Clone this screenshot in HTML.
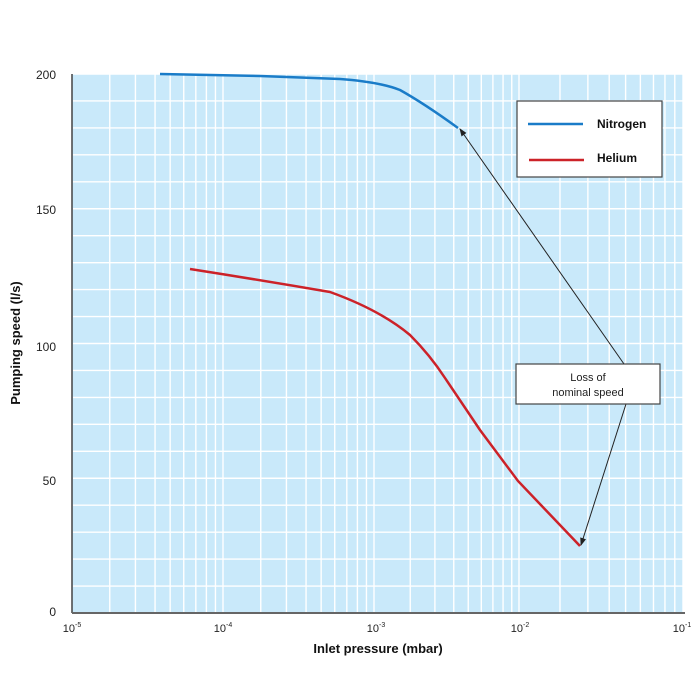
<!DOCTYPE html>
<html><head><meta charset="utf-8"><style>
html,body{margin:0;padding:0;background:#fff;}
svg{display:block;font-family:"Liberation Sans",sans-serif;}
</style></head><body>
<svg id="s" width="700" height="700" viewBox="0 0 700 700" xmlns="http://www.w3.org/2000/svg">
<defs>
<marker id="ah" markerWidth="8" markerHeight="8" refX="7" refY="4" orient="auto" markerUnits="userSpaceOnUse">
<path d="M0,1 L8,4 L0,7 Z" fill="#222"/></marker>
</defs>
<rect x="72" y="74" width="611" height="539" fill="#c9e9fa"/>
<g id="grid" stroke="#fff" stroke-width="1.4"></g>
<line x1="72" y1="74" x2="72" y2="613" stroke="#444" stroke-width="1.5"/>
<line x1="72" y1="613" x2="685" y2="613" stroke="#666" stroke-width="2"/>
<g font-size="12" fill="#222" text-anchor="end">
<text x="56" y="79">200</text><text x="56" y="214">150</text><text x="56" y="351">100</text>
<text x="56" y="485">50</text><text x="56" y="616">0</text>
</g>
<g font-size="11" fill="#222" text-anchor="middle">
<text x="72" y="632">10<tspan font-size="7" dy="-5">-5</tspan></text>
<text x="223" y="632">10<tspan font-size="7" dy="-5">-4</tspan></text>
<text x="376" y="632">10<tspan font-size="7" dy="-5">-3</tspan></text>
<text x="520" y="632">10<tspan font-size="7" dy="-5">-2</tspan></text>
<text x="682" y="632">10<tspan font-size="7" dy="-5">-1</tspan></text>
</g>
<text x="378" y="653" font-size="13" font-weight="bold" text-anchor="middle" fill="#111">Inlet pressure (mbar)</text>
<text transform="translate(20,343) rotate(-90)" font-size="13" font-weight="bold" text-anchor="middle" fill="#111">Pumping speed (l/s)</text>
<path d="M160,74 L260,76 L340,79 Q380,82 400,90 Q425,104 458,128" fill="none" stroke="#1a7cc8" stroke-width="2.5"/>
<path d="M190,269 Q260,280 330,292 Q380,310 410,335 Q430,355 445,378 L480,430 L518,481 L580,546" fill="none" stroke="#cc2229" stroke-width="2.5"/>
<line x1="624" y1="364" x2="460" y2="129" stroke="#222" stroke-width="1" marker-end="url(#ah)"/>
<line x1="626" y1="404" x2="581" y2="545" stroke="#222" stroke-width="1" marker-end="url(#ah)"/>
<rect x="517" y="101" width="145" height="76" fill="#fff" stroke="#444" stroke-width="1.2"/>
<line x1="528" y1="124" x2="583" y2="124" stroke="#1a7cc8" stroke-width="2.5"/>
<line x1="529" y1="160" x2="584" y2="160" stroke="#cc2229" stroke-width="2.5"/>
<text x="597" y="128" font-size="12" font-weight="bold" fill="#111">Nitrogen</text>
<text x="597" y="162" font-size="12" font-weight="bold" fill="#111">Helium</text>
<rect x="516" y="364" width="144" height="40" fill="#fff" stroke="#444" stroke-width="1.2"/>
<text x="588" y="381" font-size="11" text-anchor="middle" fill="#222">Loss of</text>
<text x="588" y="396" font-size="11" text-anchor="middle" fill="#222">nominal speed</text>
</svg>
<script>
var g=document.getElementById('grid'),ns='http://www.w3.org/2000/svg';
function L(x1,y1,x2,y2){var l=document.createElementNS(ns,'line');l.setAttribute('x1',x1);l.setAttribute('y1',y1);l.setAttribute('x2',x2);l.setAttribute('y2',y2);g.appendChild(l);}
var dec=[72,223,374,519,683];
var fr=[0.25,0.42,0.55,0.65,0.74,0.82,0.89,0.95,1];
for(var d=0;d<4;d++){var a=dec[d],w=dec[d+1]-a;for(var k=0;k<fr.length;k++){var x=a+w*fr[k];L(x,74,x,612);}}
for(var v=10;v<=200;v+=10){var y=613-v*2.695;L(73,y,683,y);}
</script>
</body></html>
